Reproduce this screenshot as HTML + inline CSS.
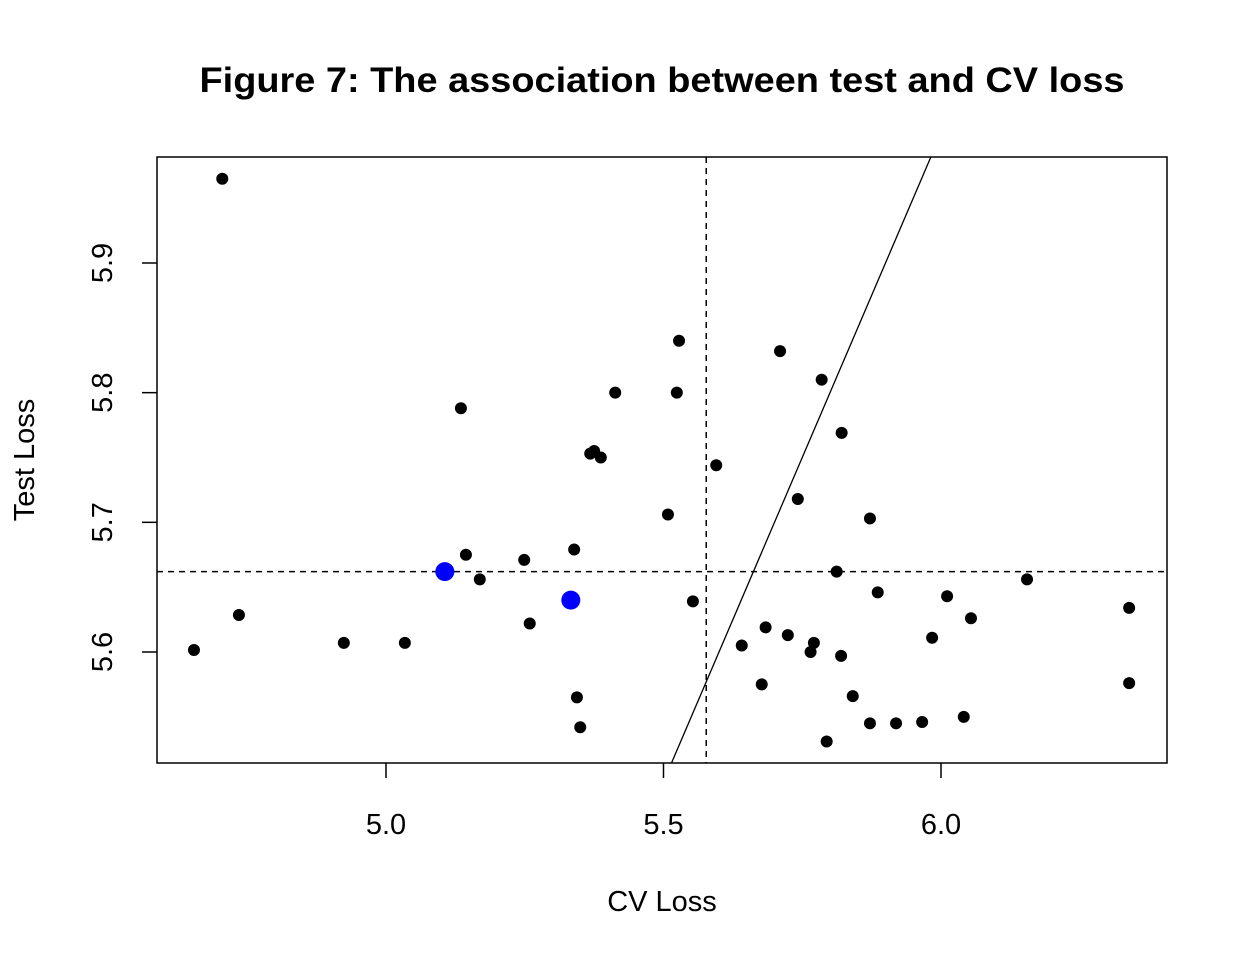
<!DOCTYPE html>
<html><head><meta charset="utf-8"><style>
body{margin:0;background:#fff;}
svg text{font-family:"Liberation Sans",Arial,sans-serif;fill:#000;}
</style></head><body>
<svg id="chart" width="1248" height="960">
<text x="662" y="92" text-anchor="middle" font-size="35" font-weight="bold" textLength="925" lengthAdjust="spacingAndGlyphs">Figure 7: The association between test and CV loss</text>
<rect x="157" y="157" width="1010" height="606" fill="none" stroke="#000" stroke-width="1.5"/>
<g id="marks"></g>
<g id="axes"></g>
<text x="662" y="911" text-anchor="middle" font-size="29">CV Loss</text>
<text transform="translate(34,460) rotate(-90)" text-anchor="middle" font-size="29">Test Loss</text>
</svg>
<script>
const cvLoss=[4.654,4.705,4.735,4.924,5.034,5.135,5.144,5.169,5.249,5.259,5.339,5.344,5.350,5.368,5.375,5.387,5.413,5.508,5.524,5.528,5.553,5.595,5.641,5.677,5.684,5.710,5.724,5.742,5.765,5.771,5.785,5.794,5.812,5.820,5.821,5.841,5.872,5.872,5.886,5.919,5.966,5.984,6.011,6.041,6.054,6.155,6.339,6.339];
const testLoss=[5.6015,5.965,5.6285,5.607,5.607,5.788,5.675,5.656,5.671,5.622,5.679,5.565,5.542,5.753,5.755,5.750,5.800,5.706,5.800,5.840,5.639,5.744,5.605,5.575,5.619,5.832,5.613,5.718,5.600,5.607,5.810,5.531,5.662,5.597,5.769,5.566,5.703,5.545,5.646,5.545,5.546,5.611,5.643,5.550,5.626,5.656,5.634,5.576];
const highlightCv=[5.106,5.333];
const highlightTest=[5.662,5.640];
const xTicks=[5.0,5.5,6.0];
const yTicks=[5.6,5.7,5.8,5.9];
const refCv=[5.577];
const refTest=[5.662];
const X=v=>386+(v-5)*555;
const Y=v=>652-(v-5.6)*1296.7;
const NS="http://www.w3.org/2000/svg";
const marks=document.getElementById('marks'), axes=document.getElementById('axes');
function mk(tag,attrs,parent){const e=document.createElementNS(NS,tag);for(const k in attrs)e.setAttribute(k,attrs[k]);parent.appendChild(e);return e;}
let l=mk('line',{x1:X(refCv[0]),x2:X(refCv[0]),y1:157,y2:763,stroke:'#000','stroke-width':1.5,'stroke-dasharray':'6,5'},marks);


l=mk('line',{x1:157,x2:1167,y1:Y(refTest[0]),y2:Y(refTest[0]),stroke:'#000','stroke-width':1.5,'stroke-dasharray':'6,5'},marks);


const yb=5.6-(763-652)/1296.7, yt=5.6+(652-157)/1296.7;
l=mk('line',{x1:X(yb),y1:Y(yb),x2:X(yt),y2:Y(yt),stroke:'#000','stroke-width':1.3},marks);


cvLoss.forEach((v,i)=>{const c=mk('circle',{cx:X(v),cy:Y(testLoss[i]),r:6,fill:'#000'},marks);

});
highlightCv.forEach((v,i)=>{const c=mk('circle',{cx:X(v),cy:Y(highlightTest[i]),r:9.5,fill:'#0000ff'},marks);

});
xTicks.forEach(v=>{mk('line',{x1:X(v),x2:X(v),y1:763,y2:778,stroke:'#000','stroke-width':1.5},axes);
const t=mk('text',{x:X(v),y:834,'text-anchor':'middle','font-size':29},axes);t.textContent=v.toFixed(1);

});
yTicks.forEach(v=>{mk('line',{x1:142,x2:157,y1:Y(v),y2:Y(v),stroke:'#000','stroke-width':1.5},axes);
const t=mk('text',{x:0,y:0,'text-anchor':'middle','font-size':29,transform:`translate(112,${Y(v)}) rotate(-90)`},axes);t.textContent=v.toFixed(1);

});
</script>
</body></html>
